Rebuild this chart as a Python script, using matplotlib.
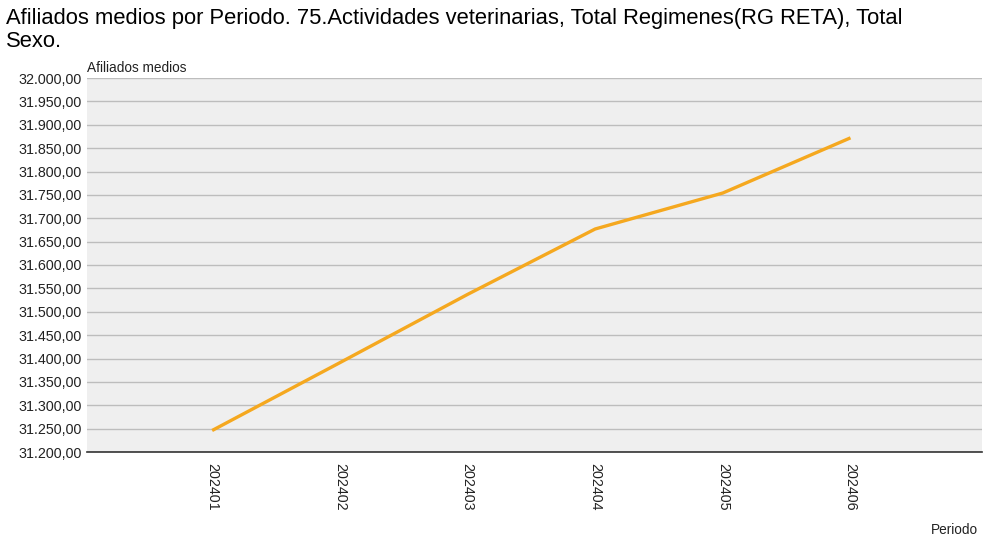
import matplotlib
matplotlib.use("Agg")
import matplotlib.pyplot as plt
from matplotlib.ticker import FuncFormatter, MultipleLocator

periodos = ["202401", "202402", "202403", "202404", "202405", "202406"]
afiliados = [31246, 31391, 31537, 31677, 31754, 31872]

plt.rcParams['font.family'] = ['Liberation Sans', 'DejaVu Sans']


def fmt_es(v, pos):
    s = "{:,.2f}".format(v)
    return s.replace(",", "X").replace(".", ",").replace("X", ".")


def main():
    fig = plt.figure(figsize=(9.92, 5.55), dpi=100)
    ax = fig.add_axes([87 / 992, 1 - 452 / 555, (982 - 87) / 992, (452 - 78) / 555])
    ax.set_facecolor("#EFEFEF")

    x = list(range(len(periodos)))
    ax.plot(x, afiliados, color="#F5A81F", linewidth=2.4, solid_capstyle="butt", zorder=3)

    ax.set_xlim(-0.98, 6.03)
    ax.set_ylim(31200, 32000)
    ax.yaxis.set_major_locator(MultipleLocator(50))
    ax.yaxis.set_major_formatter(FuncFormatter(fmt_es))
    ax.grid(axis="y", color="#BDBDBD", linewidth=1.0)
    ax.set_axisbelow(True)

    ax.set_xticks(x)
    ax.set_xticklabels(periodos, rotation=270, fontsize=10.3, color="#222222")
    ax.tick_params(axis="x", length=0, pad=8)
    ax.tick_params(axis="y", length=0, labelsize=10.3, colors="#222222", pad=4)

    for s in ["top", "right", "left"]:
        ax.spines[s].set_visible(False)
    ax.spines["bottom"].set_color("#333333")
    ax.spines["bottom"].set_linewidth(1.2)

    fig.text(6 / 992, 1 - 8 / 555,
             "Afiliados medios por Periodo. 75.Actividades veterinarias, Total Regimenes(RG RETA), Total\nSexo.",
             ha="left", va="top", fontsize=15.8, linespacing=1.12, color="#000000")
    fig.text(87 / 992, 1 - 75 / 555, "Afiliados medios", ha="left", va="bottom",
             fontsize=9.8, color="#222222")
    fig.text(978 / 992, 1 - 530 / 555, "Periodo", ha="right", va="center",
             fontsize=9.8, color="#222222")

    fig.savefig("out.png", dpi=100, facecolor="white")


if __name__ == "__main__":
    main()
